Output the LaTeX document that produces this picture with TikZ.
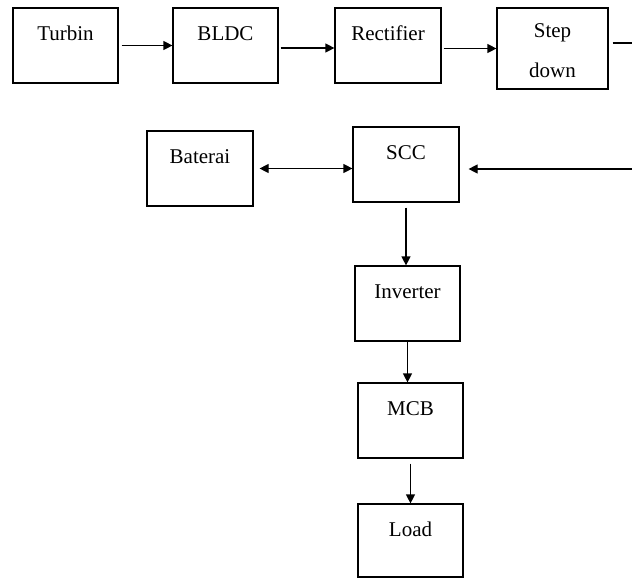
\documentclass[tikz,border=0pt]{standalone}
\usepackage{fontspec}
\setmainfont{Liberation Serif}
\usetikzlibrary{arrows.meta, positioning}

\begin{document}
\begin{tikzpicture}[
    x=1pt, y=-1pt,
    >={Triangle[length=9pt, width=9pt]},
    blok/.style={rectangle, draw=black, line width=1.2pt, minimum width=105pt, inner ysep=0pt, text height=32pt, text depth=43pt, font=\fontsize{21}{25}\selectfont},
    link/.style={->, line width=1.2pt}
]
\useasboundingbox (0,0) rectangle (632,579);

% Top row: generator chain
\node[blok] (turbin) at (65.5,45.5) {Turbin};
\node[blok] (bldc) at (225.5,45.5) {BLDC};
\node[blok, minimum width=106pt] (rectifier) at (388,45.5) {Rectifier};
\node[blok, minimum width=111pt, align=center, text height=69pt, text depth=12pt] (stepdown) at (552.5,48.5) {Step\\[15pt]down};

% Middle row: battery and charge controller
\node[blok, minimum width=106pt] (baterai) at (200,168.5) {Baterai};
\node[blok, minimum width=106pt] (scc) at (406,164.5) {SCC};

% Output column
\node[blok] (inverter) at (407.5,303.5) {Inverter};
\node[blok] (mcb) at (410.5,420.5) {MCB};
\node[blok, text depth=41pt] (load) at (410.5,540.5) {Load};

% Loose ends at the right edge
\coordinate (stepOut) at (632,43);
\coordinate (sccIn) at (632,169);

\draw[link, shorten <=3pt] (turbin.east) -- (bldc.west);
\draw[link, shorten <=2pt] ([yshift=-2.5pt]bldc.east) -- ([yshift=-2.5pt]rectifier.west);
\draw[link, shorten <=2pt] (rectifier.east |- stepdown.west) -- (stepdown.west);
\draw[line width=1.2pt, shorten <=4pt] (stepdown.east |- stepOut) -- (stepOut);

\draw[link, shorten >=9pt] (sccIn) -- (sccIn -| scc.east);
\draw[<->, line width=1.2pt, shorten <=6pt] (baterai.east) -- (baterai.east -| scc.west);

\draw[link, shorten <=5pt] (scc.south) -- (scc.south |- inverter.north);
\draw[link] (inverter.south) -- (inverter.south |- mcb.north);
\draw[link, shorten <=5pt] (mcb.south) -- (load.north);
\end{tikzpicture}
\end{document}
